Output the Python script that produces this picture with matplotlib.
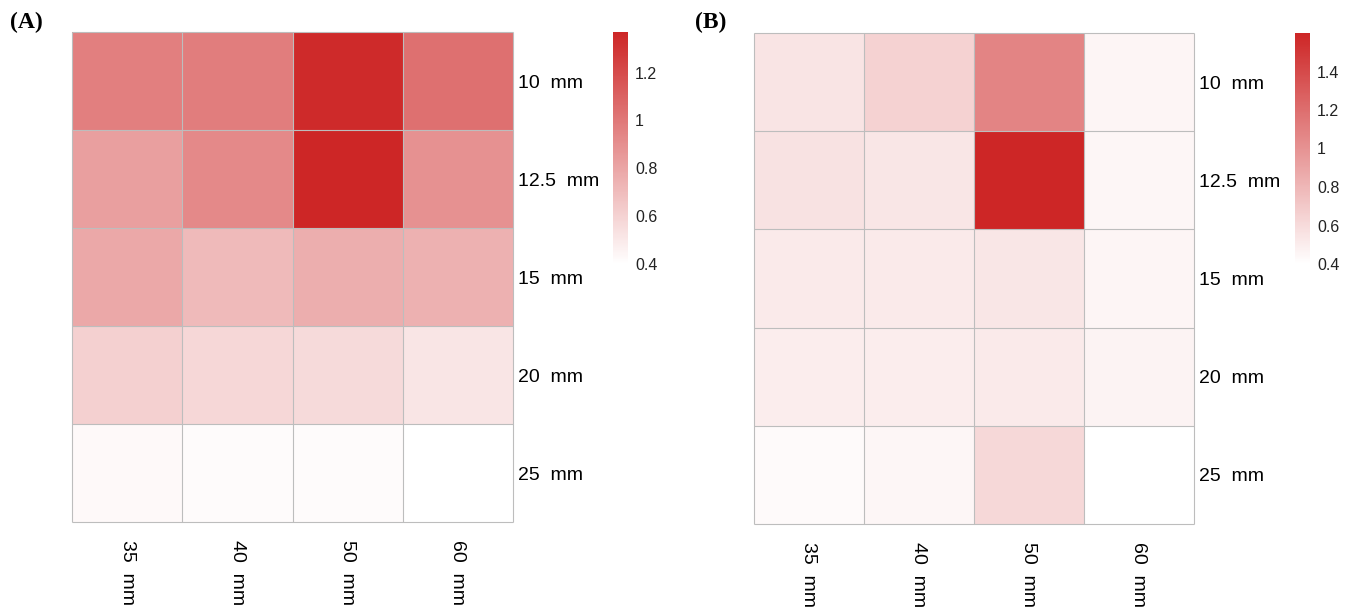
import numpy as np
import matplotlib.pyplot as plt
from matplotlib.colors import LinearSegmentedColormap, Normalize
from matplotlib.cm import ScalarMappable

plt.rcParams['font.family'] = ['Liberation Sans', 'DejaVu Sans']

# ---------------- data ----------------
rows = ["10  mm", "12.5  mm", "15  mm", "20  mm", "25  mm"]
cols = ["35  mm", "40  mm", "50  mm", "60  mm"]

vals_a = np.array([
    [0.97, 0.98, 1.35, 1.04],
    [0.83, 0.93, 1.37, 0.89],
    [0.79, 0.71, 0.76, 0.75],
    [0.61, 0.58, 0.57, 0.52],
    [0.43, 0.42, 0.42, 0.40],
])
vals_b = np.array([
    [0.55, 0.65, 1.08, 0.46],
    [0.56, 0.54, 1.60, 0.45],
    [0.52, 0.52, 0.54, 0.46],
    [0.50, 0.50, 0.52, 0.47],
    [0.43, 0.45, 0.62, 0.40],
])
ticks_a = [0.4, 0.6, 0.8, 1.0, 1.2]
ticks_b = [0.4, 0.6, 0.8, 1.0, 1.2, 1.4]

cmap = LinearSegmentedColormap.from_list("wr", ["#FFFFFF", "#CD2626"])

W, H = 1356, 612
fig = plt.figure(figsize=(W / 100, H / 100), dpi=100)


def px(x0, y0, x1, y1):
    return [x0 / W, 1 - y1 / H, (x1 - x0) / W, (y1 - y0) / H]


def panel(vals, ticks, hm_box, cb_box, letter, lx):
    ax = fig.add_axes(px(*hm_box))
    nr, nc = vals.shape
    norm = Normalize(vals.min(), vals.max())
    ax.pcolormesh(vals, cmap=cmap, norm=norm)
    # cell borders
    ax.hlines(np.arange(nr + 1), 0, nc, color="#BDBDBD", lw=0.8, clip_on=False)
    ax.vlines(np.arange(nc + 1), 0, nr, color="#BDBDBD", lw=0.8, clip_on=False)
    ax.set_xlim(0, nc)
    ax.set_ylim(nr, 0)
    for s in ax.spines.values():
        s.set_visible(False)
    ax.set_xticks(np.arange(nc) + 0.5)
    ax.set_xticklabels(cols, rotation=270, fontsize=14, va="top", ha="center")
    ax.set_yticks(np.arange(nr) + 0.5)
    ax.set_yticklabels(rows, fontsize=14)
    ax.yaxis.tick_right()
    ax.tick_params(length=0, pad=3.5)
    ax.tick_params(axis="x", pad=13)

    cax = fig.add_axes(px(*cb_box))
    cb = fig.colorbar(ScalarMappable(norm=norm, cmap=cmap), cax=cax)
    cb.outline.set_visible(False)
    cb.set_ticks(ticks)
    cb.set_ticklabels([f"{t:g}" for t in ticks])
    cax.tick_params(length=0, labelsize=11.5, pad=5, labelcolor="#222222")

    fig.text(lx / W, 1 - 22 / H, letter, fontsize=17, fontweight="bold",
             family="Liberation Serif", va="center")


panel(vals_a, ticks_a, (72, 32, 513, 522), (613, 32, 628, 264), "(A)", 10)
panel(vals_b, ticks_b, (754, 33, 1194, 524), (1295, 33, 1310, 264), "(B)", 695)

fig.savefig("out.png", dpi=100)
